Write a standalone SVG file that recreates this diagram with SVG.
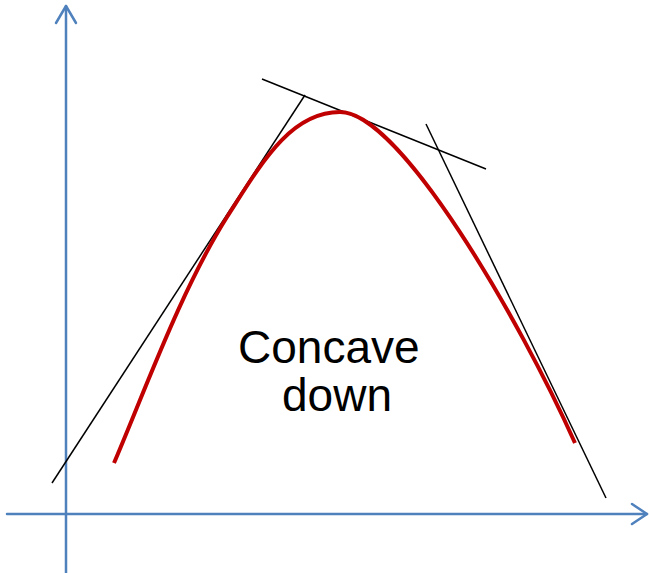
<svg xmlns="http://www.w3.org/2000/svg" width="650" height="573" viewBox="0 0 650 573">
<style>
.axis{stroke:#4F81BD;stroke-width:2.5;fill:none;stroke-linecap:round;stroke-linejoin:round}
.tan{stroke:#000;stroke-width:1.5;fill:none}
.curve{stroke:#C00000;stroke-width:4;fill:none}
.lbl{font-family:"Liberation Sans",Arial,sans-serif;font-size:46px;fill:#000}
</style>
<rect width="650" height="573" fill="#fff"/>
<g id="axes">
<line class="axis" x1="66" y1="573" x2="66" y2="6"/>
<polyline class="axis" points="56,23 66,6 76,23"/>
<line class="axis" x1="7" y1="514" x2="647" y2="514"/>
<polyline class="axis" points="632,504 647,514 632,524"/>
</g>
<g id="tangents">
<line class="tan" x1="52" y1="483" x2="305" y2="95"/>
<line class="tan" x1="262" y1="79" x2="486" y2="169"/>
<line class="tan" x1="426" y1="124" x2="606" y2="498"/>
</g>
<g id="curve">
<path class="curve" d="M114,463 C146,388 181,290 227,217 C261,164 290,112 340,112 C400,112 520,320 575,443"/>
</g>
<g id="label">
<text class="lbl" x="238" y="363">Concave</text>
<text class="lbl" x="282" y="411">down</text>
</g>
</svg>
